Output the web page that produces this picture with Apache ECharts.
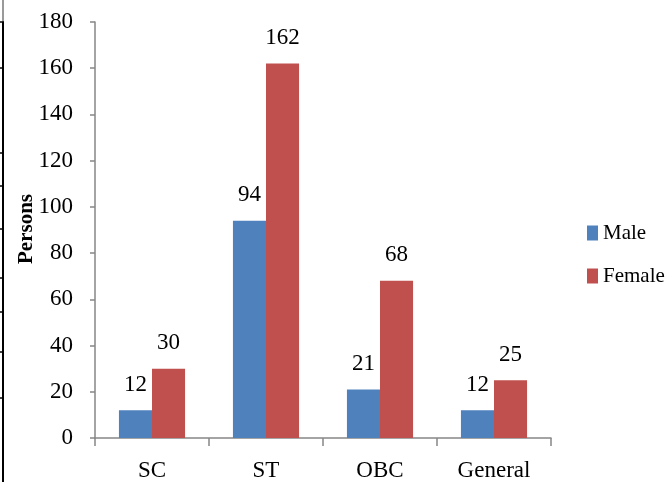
<!DOCTYPE html>
<html>
<head>
<meta charset="utf-8">
<script src="https://cdn.jsdelivr.net/npm/echarts@6/dist/echarts.min.js"></script>
<style>
  html, body { margin: 0; padding: 0; background: #fff; }
  #chart { width: 666px; height: 482px; }
</style>
</head>
<body>
<div id="chart"></div>
<script>
// Persons by social category, split by sex
const categories = ['SC', 'ST', 'OBC', 'General'];
const maleValues = [12, 94, 21, 12];
const femaleValues = [30, 162, 68, 25];
const yTicks = [0, 20, 40, 60, 80, 100, 120, 140, 160, 180];

const serif = '"Liberation Serif", "Times New Roman", serif';
const axisGray = '#868686';
const FS = 23;

const chart = echarts.init(document.getElementById('chart'), null, { renderer: 'canvas' });

// Frame rule on the left edge with its small notches
const notchY = [22, 68, 153, 186, 229, 278, 312, 352, 398];
const frame = [
  { type: 'line', shape: { x1: 3, y1: 0, x2: 3, y2: 22 }, style: { stroke: '#9a9a9a', lineWidth: 2 } },
  { type: 'line', shape: { x1: 3, y1: 22, x2: 3, y2: 482 }, style: { stroke: '#000', lineWidth: 2 } }
].concat(notchY.map(y => ({
  type: 'line', shape: { x1: 0, y1: y, x2: 4, y2: y }, style: { stroke: '#000', lineWidth: 1.5 }
})));

const valueLabel = {
  show: true, position: 'top', distance: 14,
  color: '#000', fontFamily: serif, fontSize: FS
};

chart.setOption({
  animation: false,
  backgroundColor: '#fff',
  textStyle: { fontFamily: serif },
  grid: { left: 95, right: 115, top: 22, bottom: 42, containLabel: false },
  legend: {
    orient: 'vertical',
    left: 582,
    top: 217,
    itemWidth: 11,
    itemHeight: 15,
    itemGap: 21,
    icon: 'rect',
    textStyle: { fontFamily: serif, fontSize: 21, color: '#000', lineHeight: 22 },
    data: ['Male', 'Female']
  },
  xAxis: {
    type: 'category',
    data: categories,
    axisLine: { lineStyle: { color: axisGray, width: 1.5 } },
    axisTick: { show: true, length: 8, lineStyle: { color: axisGray, width: 1.5 } },
    axisLabel: { color: '#000', fontFamily: serif, fontSize: FS, margin: 21 }
  },
  yAxis: {
    type: 'value',
    min: yTicks[0],
    max: yTicks[yTicks.length - 1],
    interval: 20,
    splitLine: { show: false },
    axisLine: { show: true, lineStyle: { color: axisGray, width: 1.5 } },
    axisTick: { show: true, length: 5, lineStyle: { color: axisGray, width: 1.5 } },
    axisLabel: { color: '#000', fontFamily: serif, fontSize: FS, margin: 22 }
  },
  series: [
    {
      name: 'Male',
      type: 'bar',
      data: maleValues,
      barGap: '0%',
      barCategoryGap: '42%',
      itemStyle: { color: '#4F81BD' },
      label: valueLabel
    },
    {
      name: 'Female',
      type: 'bar',
      data: femaleValues,
      barGap: '0%',
      barCategoryGap: '42%',
      itemStyle: { color: '#C0504D' },
      label: valueLabel
    }
  ],
  graphic: frame.concat([
    {
      type: 'text',
      x: 27,
      y: 229,
      rotation: Math.PI / 2,
      style: {
        text: 'Persons',
        fontFamily: serif,
        fontWeight: 'bold',
        fontSize: 21,
        fill: '#000',
        align: 'center',
        verticalAlign: 'middle'
      }
    }
  ])
});
</script>
</body>
</html>
